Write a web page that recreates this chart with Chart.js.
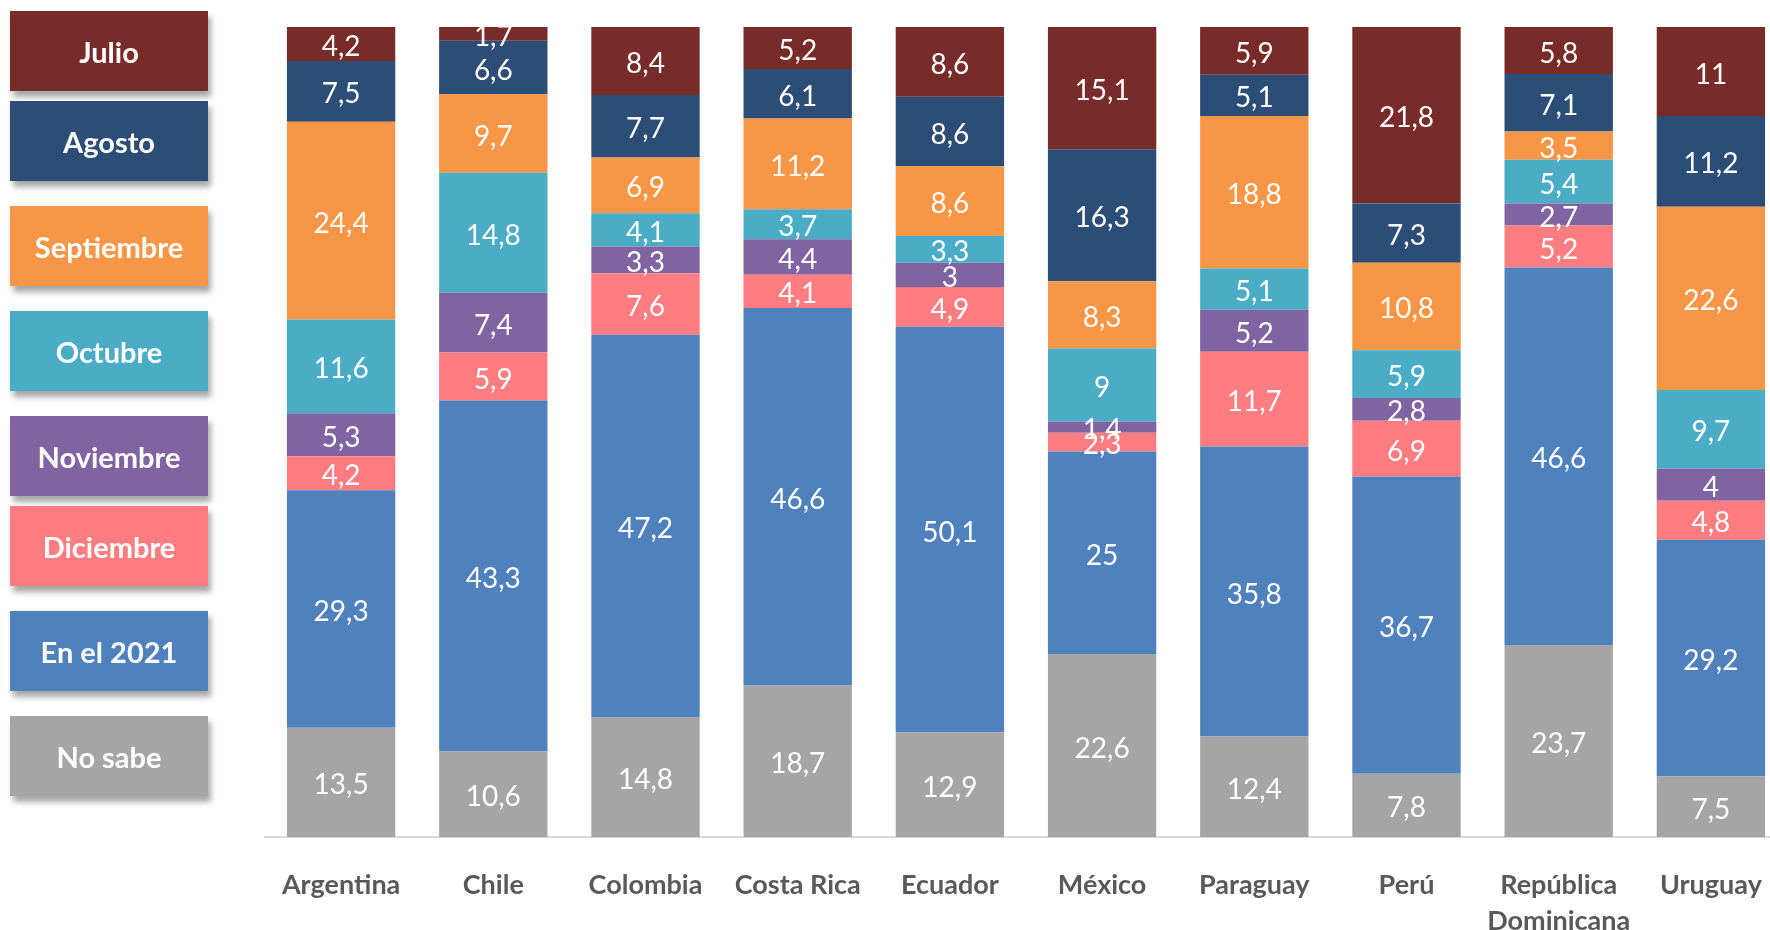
<!DOCTYPE html>
<html>
<head>
<meta charset="utf-8">
<script src="https://cdn.jsdelivr.net/npm/chart.js@4.4.1/dist/chart.umd.min.js"></script>
<style>
  html, body { margin: 0; padding: 0; background: #fff; overflow: hidden; }
  body { width: 1770px; height: 930px; position: relative; }
  #wrap { position: absolute; left: 0; top: 0; width: 1800px; height: 930px; }
  .key {
    position: absolute; left: 10px; width: 198px; height: 80px;
    color: #fff; font: bold 29px Lato, "Open Sans", sans-serif;
    display: flex; align-items: center; justify-content: center;
    box-shadow: 3px 6px 6px rgba(0,0,0,0.35);
  }
</style>
</head>
<body>
<div id="wrap"><canvas id="chart"></canvas></div>
<div id="legend"></div>
<script>
  const countries = ["Argentina", "Chile", "Colombia", "Costa Rica", "Ecuador", "México",
                     "Paraguay", "Perú", ["República", "Dominicana"], "Uruguay"];

  // bottom to top
  const noSabe     = [13.5, 10.6, 14.8, 18.7, 12.9, 22.6, 12.4,  7.8, 23.7,  7.5];
  const en2021     = [29.3, 43.3, 47.2, 46.6, 50.1, 25.0, 35.8, 36.7, 46.6, 29.2];
  const diciembre  = [ 4.2,  5.9,  7.6,  4.1,  4.9,  2.3, 11.7,  6.9,  5.2,  4.8];
  const noviembre  = [ 5.3,  7.4,  3.3,  4.4,  3.0,  1.4,  5.2,  2.8,  2.7,  4.0];
  const octubre    = [11.6, 14.8,  4.1,  3.7,  3.3,  9.0,  5.1,  5.9,  5.4,  9.7];
  const septiembre = [24.4,  9.7,  6.9, 11.2,  8.6,  8.3, 18.8, 10.8,  3.5, 22.6];
  const agosto     = [ 7.5,  6.6,  7.7,  6.1,  8.6, 16.3,  5.1,  7.3,  7.1, 11.2];
  const julio      = [ 4.2,  1.7,  8.4,  5.2,  8.6, 15.1,  5.9, 21.8,  5.8, 11.0];

  const seriesNames  = ["No sabe", "En el 2021", "Diciembre", "Noviembre", "Octubre", "Septiembre", "Agosto", "Julio"];
  const seriesValues = [noSabe, en2021, diciembre, noviembre, octubre, septiembre, agosto, julio];
  const seriesColors = ["#a5a5a5", "#4f81bd", "#ff7c80", "#8064a2", "#4bacc6", "#f79646", "#2c4d75", "#772c2a"];

  // legend boxes (top to bottom = Julio ... No sabe)
  const legendTops = [11, 101, 206, 311, 416, 506, 611, 716];
  const legendEl = document.getElementById("legend");
  for (let i = 0; i < seriesNames.length; i++) {
    const idx = seriesNames.length - 1 - i;
    const d = document.createElement("div");
    d.className = "key";
    d.style.top = legendTops[i] + "px";
    d.style.background = seriesColors[idx];
    d.textContent = seriesNames[idx];
    legendEl.appendChild(d);
  }

  // value labels centred in each segment
  const segmentLabels = {
    id: "segmentLabels",
    afterDatasetsDraw(chart) {
      const ctx = chart.ctx;
      const area = chart.chartArea;
      ctx.save();
      ctx.beginPath();
      ctx.rect(area.left, area.top, area.right - area.left, area.bottom - area.top);
      ctx.clip();
      ctx.fillStyle = "#fff";
      ctx.font = "28px Lato, 'Open Sans', sans-serif";
      ctx.textAlign = "center";
      ctx.textBaseline = "middle";
      chart.data.datasets.forEach(function(ds, di) {
        const meta = chart.getDatasetMeta(di);
        meta.data.forEach(function(el, i) {
          const p = el.getProps(["x", "y", "base"], true);
          const txt = String(ds.data[i]).replace(".", ",");
          ctx.fillText(txt, p.x, (p.y + p.base) / 2 + 3);
        });
      });
      ctx.restore();
    }
  };

  new Chart(document.getElementById("chart"), {
    type: "bar",
    data: {
      labels: countries,
      datasets: seriesNames.map(function(name, i) {
        return {
          label: name,
          data: seriesValues[i],
          backgroundColor: seriesColors[i],
          borderWidth: 0,
          categoryPercentage: 1,
          barPercentage: 0.712
        };
      })
    },
    options: {
      responsive: true, maintainAspectRatio: false, animation: false,
      layout: { padding: { left: 265, right: 13, top: 27, bottom: 0 } },
      plugins: { legend: { display: false }, tooltip: { enabled: false } },
      scales: {
        x: {
          stacked: true,
          grid: { display: false, drawTicks: false },
          border: { display: true, color: "#d9d9d9", width: 2 },
          ticks: {
            color: "#595959", padding: 30, maxRotation: 0, autoSkip: false,
            font: { family: "Lato, 'Open Sans', sans-serif", size: 27, weight: "bold", lineHeight: 1.33 }
          },
          afterFit: function(scale) { scale.height = 93; }
        },
        y: { stacked: true, display: false, min: 0, max: 100 }
      }
    },
    plugins: [segmentLabels]
  });
</script>
</body>
</html>
